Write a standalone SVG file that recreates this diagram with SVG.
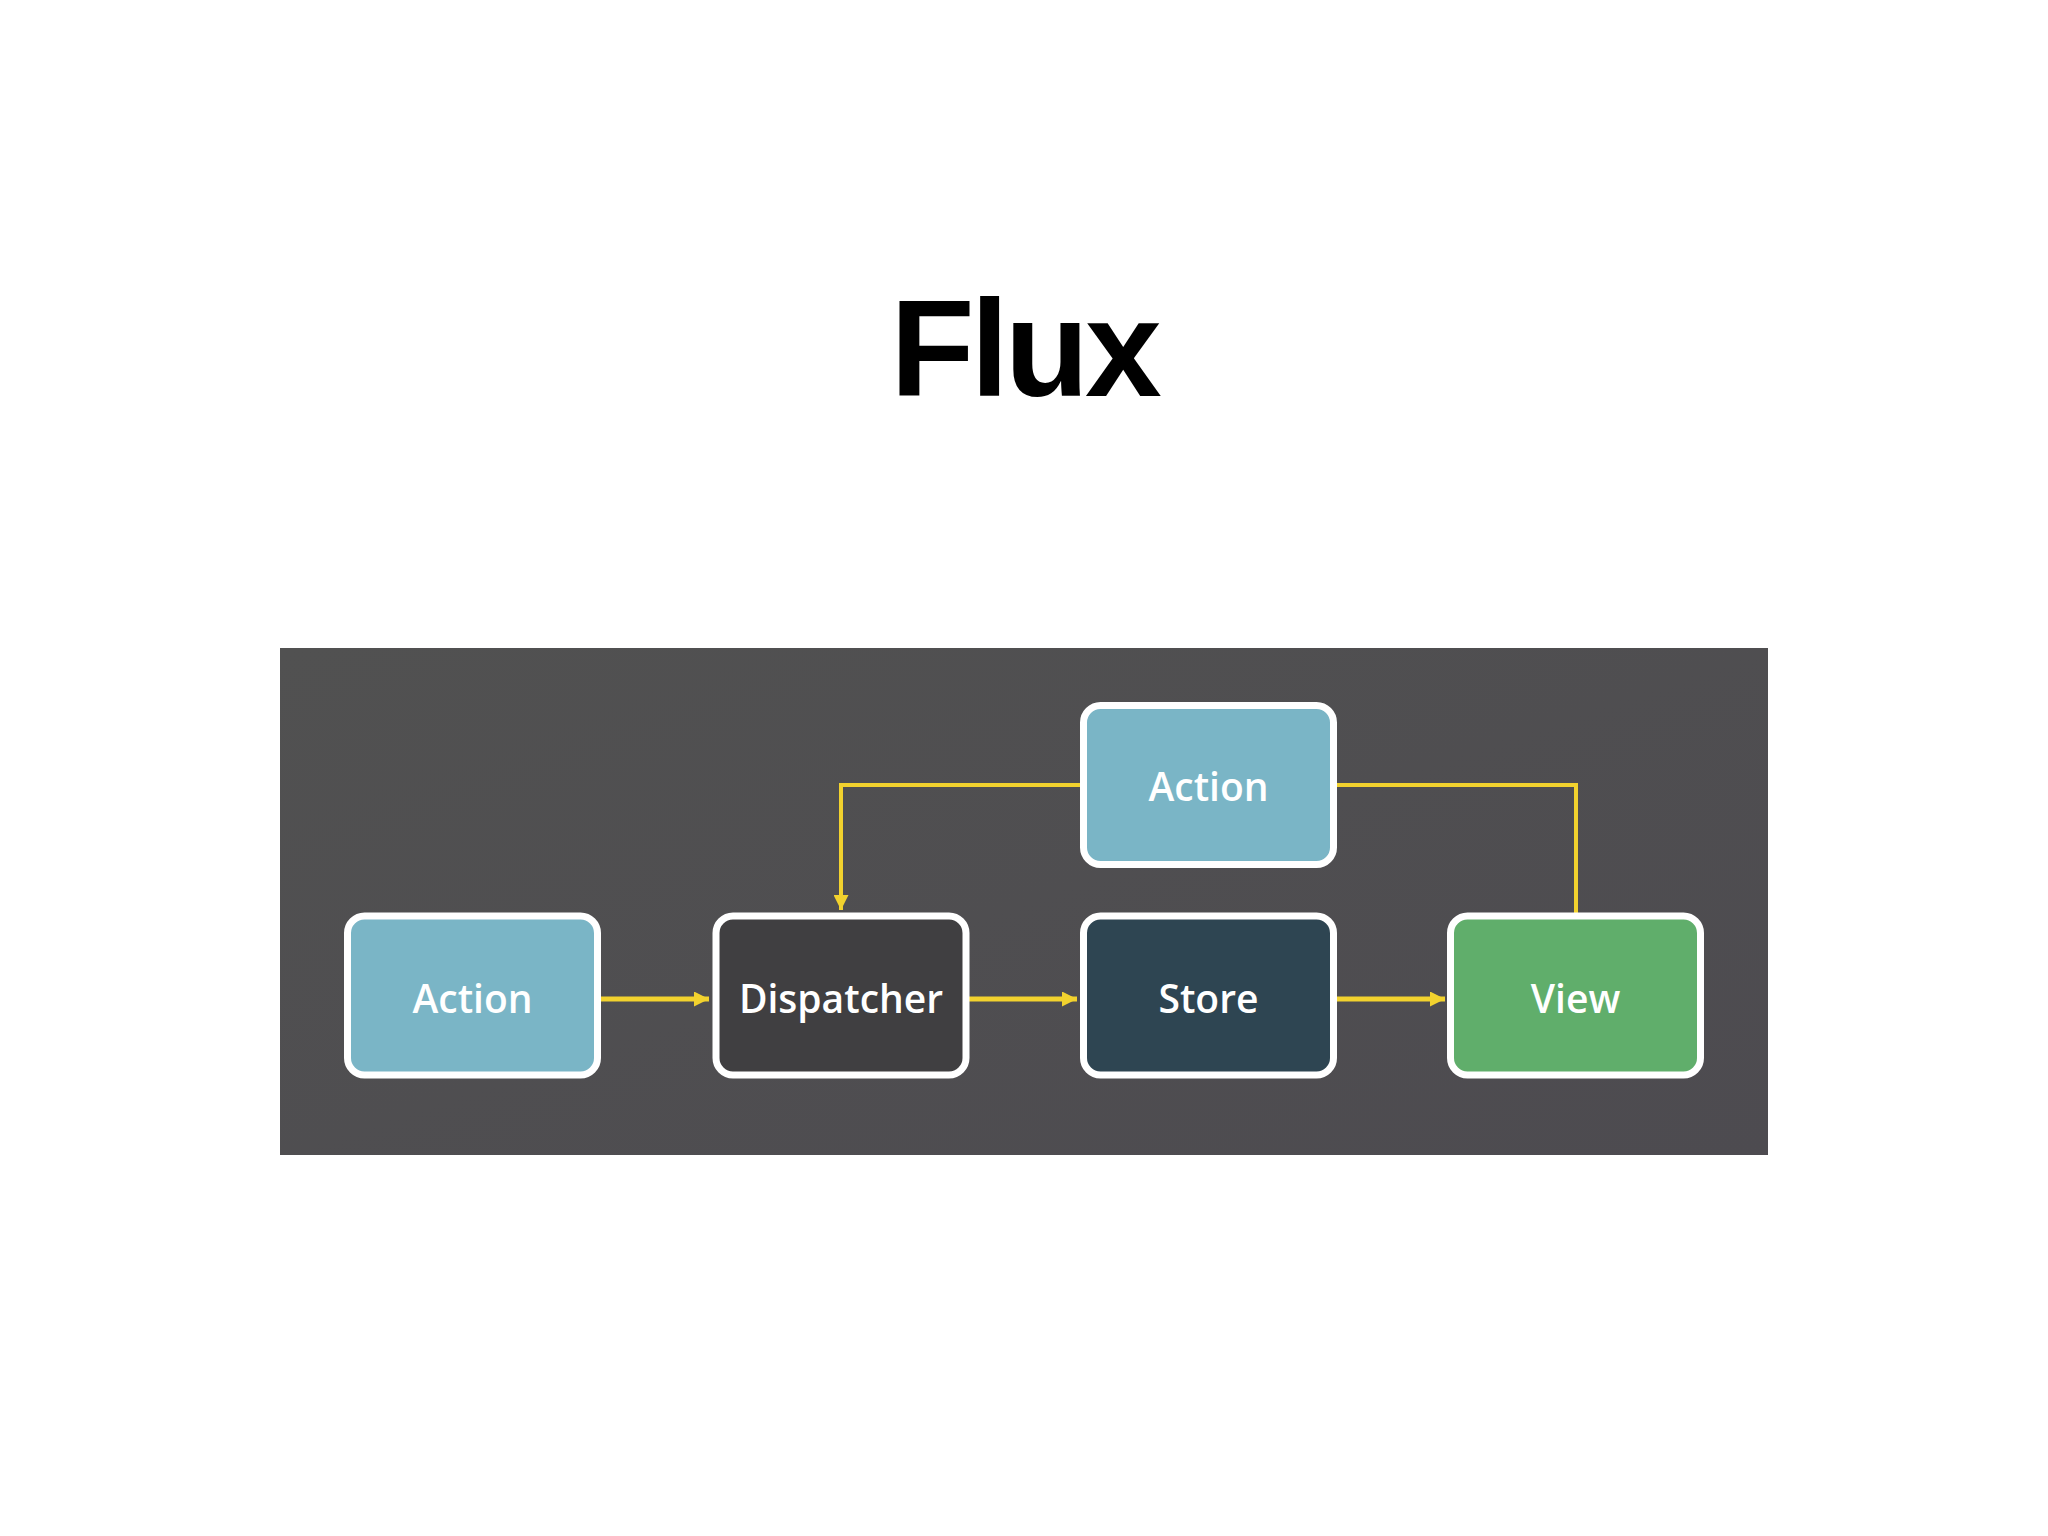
<svg xmlns="http://www.w3.org/2000/svg" width="2048" height="1536" viewBox="0 0 2048 1536">
  <defs>
    <linearGradient id="panelGrad" x1="0" y1="0" x2="1" y2="1">
      <stop offset="0" stop-color="#515151"/>
      <stop offset="1" stop-color="#4d4b50"/>
    </linearGradient>
    <marker id="arrow" viewBox="0 0 10 10" refX="10" refY="5" markerUnits="userSpaceOnUse" markerWidth="17" markerHeight="15" orient="auto">
      <path d="M0,0 L10,5 L0,10 z" fill="#f2d22e"/>
    </marker>
  </defs>
  <style>
    .node { stroke: #ffffff; stroke-width: 7; }
    .label { font-family: "Open Sans", "Noto Sans", sans-serif; font-weight: 600; font-size: 39px; fill: #ffffff; text-anchor: middle; }
    .conn { fill: none; stroke: #f2d22e; }
    .main { stroke-width: 5; }
    .loop { stroke-width: 4; }
  </style>
  <rect x="0" y="0" width="2048" height="1536" fill="#ffffff"/>
  <text x="1024" y="396" font-family="Liberation Sans, Arial, sans-serif" font-weight="700" font-size="138" letter-spacing="-4" text-anchor="middle" fill="#000000">Flux</text>
  <rect id="panel" x="280" y="648" width="1488" height="507" fill="url(#panelGrad)"/>

  <g id="connectors">
    <line class="conn main" x1="601" y1="999" x2="709" y2="999" marker-end="url(#arrow)"/>
    <line class="conn main" x1="968" y1="999" x2="1077" y2="999" marker-end="url(#arrow)"/>
    <line class="conn main" x1="1337" y1="999" x2="1445" y2="999" marker-end="url(#arrow)"/>
    <polyline class="conn loop" points="1080,785 841,785 841,910" marker-end="url(#arrow)"/>
    <polyline class="conn loop" points="1337,785 1576,785 1576,913"/>
  </g>

  <g id="action-left">
    <rect class="node" x="347.5" y="916" width="250" height="159" rx="17" fill="#7ab5c6"/>
    <text class="label" x="472.5" y="1013">Action</text>
  </g>
  <g id="dispatcher">
    <rect class="node" x="716" y="916" width="250" height="159" rx="17" fill="#403f41"/>
    <text class="label" x="841" y="1013">Dispatcher</text>
  </g>
  <g id="store">
    <rect class="node" x="1083.5" y="916" width="250" height="159" rx="17" fill="#2e4552"/>
    <text class="label" x="1208.5" y="1013">Store</text>
  </g>
  <g id="view">
    <rect class="node" x="1450.5" y="916" width="250" height="159" rx="17" fill="#60ae6b"/>
    <text class="label" x="1575.5" y="1013">View</text>
  </g>
  <g id="action-top">
    <rect class="node" x="1083.5" y="705.5" width="250" height="159" rx="17" fill="#7ab5c6"/>
    <text class="label" x="1208.5" y="801">Action</text>
  </g>
</svg>
